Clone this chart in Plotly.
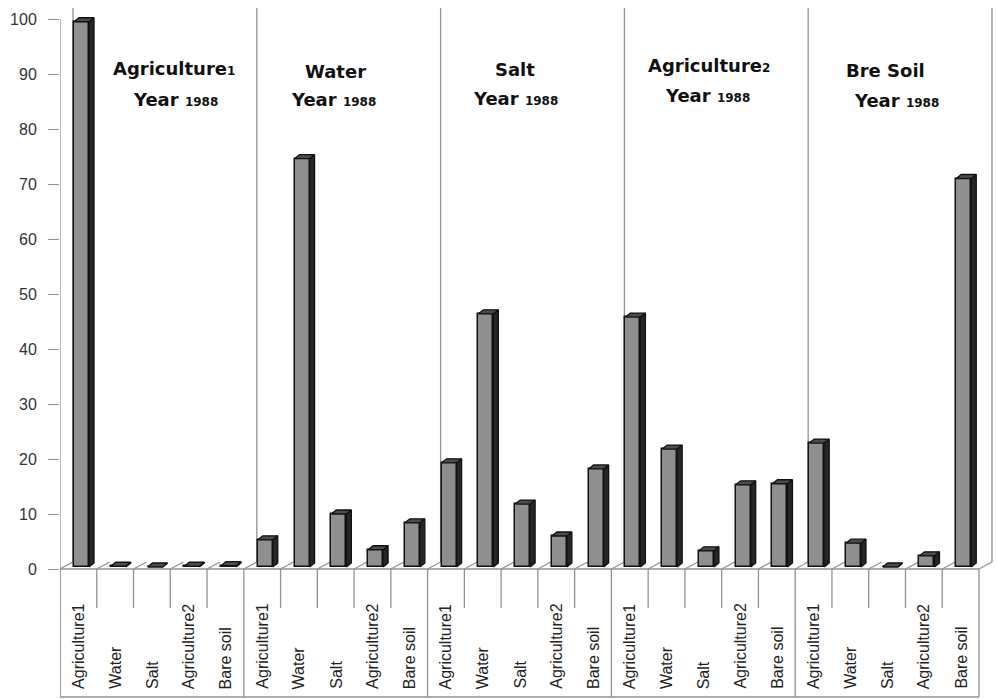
import plotly.graph_objects as go

# Land-cover classes (x categories) repeated for each reference class
classes = ["Agriculture1", "Water", "Salt", "Agriculture2", "Bare soil"]
group_titles = ["Agriculture", "Water", "Salt", "Agriculture", "Bre Soil"]
group_title_sub = ["1", "", "", "2", ""]
year_label = "1988"

# Percentages per reference class (one list per group)
agriculture1_1988 = [99.5, 0.5, 0.3, 0.5, 0.6]
water_1988 = [5.3, 74.6, 10.0, 3.5, 8.4]
salt_1988 = [19.3, 46.4, 11.8, 6.0, 18.2]
agriculture2_1988 = [45.8, 21.8, 3.3, 15.3, 15.5]
bare_soil_1988 = [22.9, 4.7, 0.3, 2.4, 71.0]

groups = [agriculture1_1988, water_1988, salt_1988, agriculture2_1988, bare_soil_1988]
y_ticks = list(range(0, 101, 10))

# ---- geometry (pixel scale of the axes) ----
W, H = 997, 699
L_MARGIN, T_MARGIN = 60, 8
N = len(classes) * len(groups)
CW = 919 / N                 # px per category
PX_Y = 5.5                   # px per percent
Y0_PX = 569                  # pixel row of value 0
x_max = (W - L_MARGIN) / CW
y_min = (Y0_PX - H) / PX_Y
y_max = (Y0_PX - T_MARGIN) / PX_Y


def py(p):
    """pixel row -> y data value"""
    return (Y0_PX - p) / PX_Y


def px(p):
    """pixel column -> x data value"""
    return (p - L_MARGIN) / CW


FRONT_OFF = 14 / CW
FRONT_W = 15 / CW
SIDE_DX = 5 / CW
SIDE_DY = 4 / PX_Y
BASE = 2 / PX_Y
WALL_DX = 13 / CW
WALL_DY = 7 / PX_Y

values = [v for g in groups for v in g]
labels = classes * len(groups)

fig = go.Figure()

# front faces
tops = [max(v, BASE) for v in values]
fig.add_trace(go.Bar(
    x=[i + 0.5 for i in range(N)],
    y=[t - BASE for t in tops],
    base=BASE,
    width=FRONT_W,
    offset=FRONT_OFF - 0.5,
    marker=dict(color="#8f8f8f", line=dict(color="#111111", width=1.5)),
    showlegend=False, hoverinfo="skip",
))

# side and top faces of the pseudo-3D columns
sx, sy, cx, cy = [], [], [], []
for i, t in enumerate(tops):
    xl = i + FRONT_OFF
    xr = xl + FRONT_W
    sx += [xr, xr, xr + SIDE_DX, xr + SIDE_DX, xr, None]
    sy += [BASE, t, t + SIDE_DY, BASE + SIDE_DY, BASE, None]
    cx += [xl, xr, xr + SIDE_DX, xl + SIDE_DX, xl, None]
    cy += [t, t, t + SIDE_DY, t + SIDE_DY, t, None]

fig.add_trace(go.Scatter(x=sx, y=sy, mode="lines", fill="toself",
                         fillcolor="#262626", line=dict(color="#111111", width=1.3),
                         showlegend=False, hoverinfo="skip"))
fig.add_trace(go.Scatter(x=cx, y=cy, mode="lines", fill="toself",
                         fillcolor="#4d4d4d", line=dict(color="#111111", width=1.3),
                         showlegend=False, hoverinfo="skip"))

# ---- frame lines ----
line_style = dict(color="#929292", width=1.3)
shapes = []
box_bottom = py(697)
tick_bottom = py(608)
shapes.append(dict(type="line", x0=0, x1=N, y0=0, y1=0, line=line_style, layer="below"))
shapes.append(dict(type="line", x0=0, x1=N, y0=box_bottom, y1=box_bottom, line=line_style, layer="below"))
shapes.append(dict(type="line", x0=0, x1=0, y0=100, y1=box_bottom, line=line_style, layer="below"))
for i in range(N + 1):
    major = i % len(classes) == 0
    shapes.append(dict(type="line", x0=i, x1=i, y0=0,
                       y1=box_bottom if major else tick_bottom,
                       line=line_style, layer="below"))
    shapes.append(dict(type="line", x0=i, x1=i + WALL_DX, y0=0, y1=WALL_DY,
                       line=line_style, layer="below"))
    if major:
        shapes.append(dict(type="line", x0=i + WALL_DX, x1=i + WALL_DX,
                           y0=WALL_DY, y1=y_max, line=line_style, layer="below"))

annotations = []
# category labels, rotated
for i, lab in enumerate(labels):
    annotations.append(dict(x=i + 0.5, y=py(691), text=lab, textangle=-90,
                            showarrow=False, xanchor="center", yanchor="bottom",
                            font=dict(family="Liberation Sans, Arial", size=16, color="#222222")))

# group titles
title_font = dict(family="DejaVu Sans, sans-serif", size=18, color="#111111", weight="bold")
title_pos = [((174, 68), (175, 99)), ((335, 71), (333, 99)), ((515, 69), (515, 98)),
             ((709, 65), (707, 95)), ((885, 70), (896, 100))]
for (t1, t2), name, sub in zip(title_pos, group_titles, group_title_sub):
    txt = name + (f"<span style='font-size:12px'>{sub}</span>" if sub else "")
    annotations.append(dict(x=px(t1[0]), y=py(t1[1]), text=txt, showarrow=False,
                            xanchor="center", yanchor="middle", font=title_font))
    annotations.append(dict(x=px(t2[0]), y=py(t2[1]),
                            text=f"Year <span style='font-size:12px'>{year_label}</span>",
                            showarrow=False, xanchor="center", yanchor="middle", font=title_font))

fig.update_layout(
    width=W, height=H,
    margin=dict(l=L_MARGIN, r=0, t=T_MARGIN, b=0),
    paper_bgcolor="white", plot_bgcolor="white",
    shapes=shapes, annotations=annotations,
    xaxis=dict(range=[0, x_max], visible=False, fixedrange=True),
    yaxis=dict(range=[y_min, y_max], tickvals=y_ticks, ticktext=[str(t) for t in y_ticks],
               ticks="outside", ticklen=11, tickcolor="#929292", tickwidth=1.3,
               ticklabelstandoff=8, showgrid=False, zeroline=False, showline=False,
               tickfont=dict(family="Liberation Sans, Arial", size=16, color="#333333"),
               fixedrange=True),
    bargap=0,
)

fig.write_html("out.html")
